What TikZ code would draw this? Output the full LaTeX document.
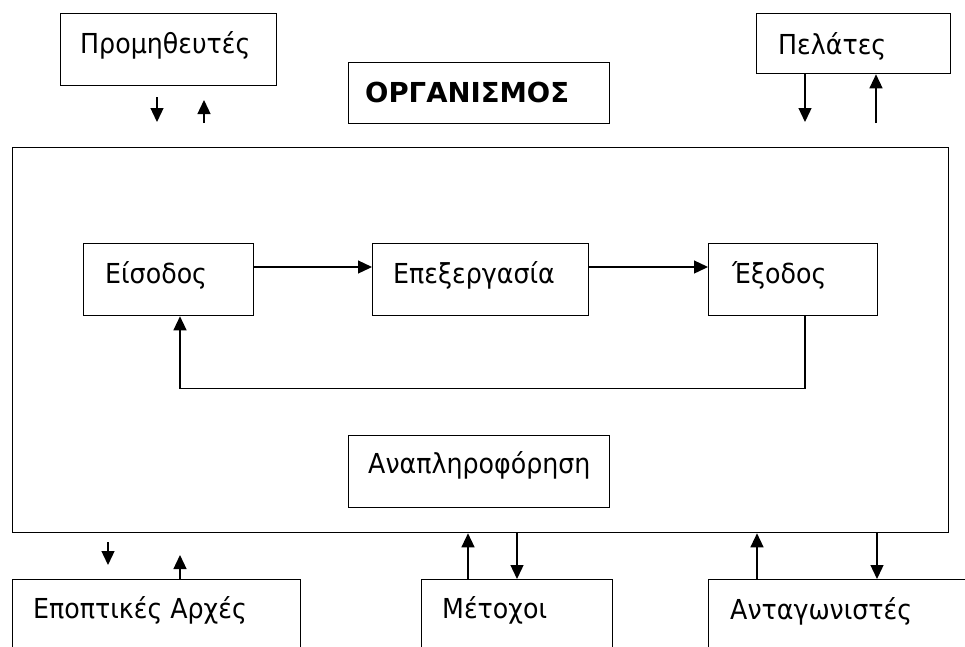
\documentclass[tikz,border=0pt]{standalone}
\usepackage{fontspec}
\setmainfont{DejaVu Sans}
\newfontfamily\lblfont[FakeStretch=0.92]{DejaVu Sans}
\usetikzlibrary{arrows.meta,calc}
\begin{document}
\begin{tikzpicture}[x=1pt,y=-1pt,
  box/.style={draw,line width=1.3pt,rectangle,inner sep=0pt,anchor=north west},
  lbl/.style={inner sep=0pt,anchor=base west,font=\lblfont\fontsize{27.5}{32}\selectfont},
  arr/.style={line width=1.3pt,-{Triangle[length=14pt,width=13pt]}}]
\clip (0,0) rectangle (965,646);
\fill[white] (0,0) rectangle (965,646);

% outer organisation frame and its title
\node[box,minimum width=936pt,minimum height=385pt] (org) at (12,147) {};
\node[box,minimum width=261pt,minimum height=61pt] (title) at (348,62) {};
\node[inner sep=0pt,anchor=base west,font=\bfseries\fontsize{27.5}{32}\selectfont] (titletxt) at ($(title.north west)+(17,40)$) {ΟΡΓΑΝΙΣΜΟΣ};

% environment boxes
\node[box,minimum width=216pt,minimum height=72pt] (sup) at (60,13) {};
\node[lbl] (suptxt) at ($(sup.north west)+(20,40)$) {Προμηθευτές};
\node[box,minimum width=194pt,minimum height=60pt] (cus) at (756,13) {};
\node[lbl] (custxt) at ($(cus.north west)+(22,41)$) {Πελάτες};
\node[box,minimum width=288pt,minimum height=100pt] (reg) at (12,579) {};
\node[lbl] (regtxt) at ($(reg.north west)+(21,39)$) {Εποπτικές Αρχές};
\node[box,minimum width=191pt,minimum height=100pt] (sh) at (421,579) {};
\node[lbl] (shtxt) at ($(sh.north west)+(21,39)$) {Μέτοχοι};
\node[box,minimum width=300pt,minimum height=100pt] (comp) at (708,579) {};
\node[lbl] (comptxt) at ($(comp.north west)+(22,40)$) {Ανταγωνιστές};

% process chain
\node[box,minimum width=170pt,minimum height=72pt] (in) at (83,243) {};
\node[lbl] (intxt) at ($(in.north west)+(22,40)$) {Είσοδος};
\node[box,minimum width=216pt,minimum height=72pt] (proc) at (372,243) {};
\node[lbl] (proctxt) at ($(proc.north west)+(21,40)$) {Επεξεργασία};
\node[box,minimum width=169pt,minimum height=72pt] (out) at (708,243) {};
\node[lbl] (outtxt) at ($(out.north west)+(24,40)$) {Έξοδος};
\node[box,minimum width=261pt,minimum height=72pt] (fbk) at (348,435) {};
\node[lbl] (fbktxt) at ($(fbk.north west)+(20,38)$) {Αναπληροφόρηση};

\draw[arr] ([yshift=-24pt]in.north east) -- ([yshift=-24pt]proc.north west);
\draw[arr] ([yshift=-24pt]proc.north east) -- ([yshift=-24pt]out.north west);
\draw[arr] ([xshift=97pt]out.south west) -- ++(0,72) -| ([xshift=97pt]in.south west);

% exchanges with the environment
\coordinate (s1a) at (157,97);  \coordinate (s1b) at (157,122);
\coordinate (s2a) at (204,123); \coordinate (s2b) at (204,100);
\draw[arr] (s1a) -- (s1b);
\draw[arr] (s2a) -- (s2b);

\coordinate (c1) at (805,122); \coordinate (c2) at (876,123);
\draw[arr] (cus.south -| c1) -- (c1);
\draw[arr] (c2) -- (c2 |- cus.south);

\coordinate (r1a) at (108,542); \coordinate (r1b) at (108,565);
\coordinate (r2) at (180,555);
\draw[arr] (r1a) -- (r1b);
\draw[arr] (reg.north -| r2) -- (r2);

\coordinate (m1) at (468,0); \coordinate (m2) at (517,0);
\draw[arr] (sh.north -| m1) -- (org.south -| m1);
\draw[arr] (org.south -| m2) -- (sh.north -| m2);

\coordinate (k1) at (757,0); \coordinate (k2) at (877,0);
\draw[arr] (comp.north -| k1) -- (org.south -| k1);
\draw[arr] (org.south -| k2) -- (comp.north -| k2);
\end{tikzpicture}
\end{document}
